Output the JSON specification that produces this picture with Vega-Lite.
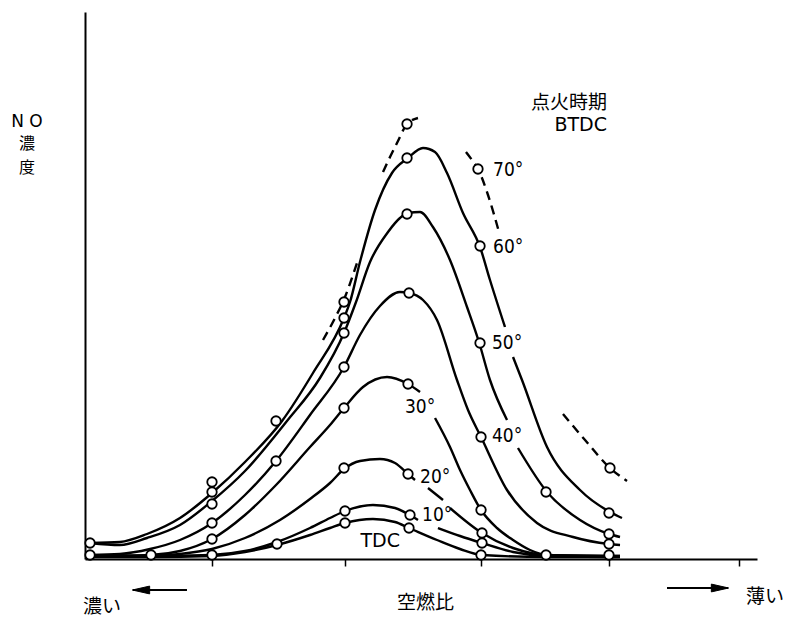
{
  "$schema": "https://vega.github.io/schema/vega-lite/v6.json",
  "width": 672,
  "height": 547,
  "autosize": {"type": "none"},
  "padding": {"left": 85, "top": 12, "right": 30, "bottom": 58},
  "background": "white",
  "config": {
    "view": {"stroke": null},
    "axis": {"domainColor": "black", "domainWidth": 2, "tickColor": "black", "tickWidth": 1.5, "tickSize": 7, "grid": false, "labels": false, "titleColor": "black", "titleFontWeight": "normal"}
  },
  "datasets": {
    "curves": [
      {"series":"60°","seg":"60a","afr":10.152,"no":80},{"series":"60°","seg":"60a","afr":10.606,"no":85},{"series":"60°","seg":"60a","afr":11.015,"no":125},{"series":"60°","seg":"60a","afr":11.515,"no":205},{"series":"60°","seg":"60a","afr":12.0,"no":330},{"series":"60°","seg":"60a","afr":12.5,"no":485},{"series":"60°","seg":"60a","afr":13.061,"no":690},{"series":"60°","seg":"60a","afr":13.53,"no":930},{"series":"60°","seg":"60a","afr":14.0,"no":1205},{"series":"60°","seg":"60a","afr":14.091,"no":1285},{"series":"60°","seg":"60a","afr":14.242,"no":1485},{"series":"60°","seg":"60a","afr":14.47,"no":1745},{"series":"60°","seg":"60a","afr":14.727,"no":1930},{"series":"60°","seg":"60a","afr":14.97,"no":2005},{"series":"60°","seg":"60a","afr":15.197,"no":2055},{"series":"60°","seg":"60a","afr":15.379,"no":2035},{"series":"60°","seg":"60a","afr":15.561,"no":1930},{"series":"60°","seg":"60a","afr":15.803,"no":1730},{"series":"60°","seg":"60a","afr":16.061,"no":1560},{"series":"60°","seg":"60a","afr":16.212,"no":1395},{"series":"60°","seg":"60a","afr":16.439,"no":1160},
      {"series":"60°","seg":"60b","afr":16.561,"no":1010},{"series":"60°","seg":"60b","afr":16.697,"no":895},{"series":"60°","seg":"60b","afr":17.076,"no":560},{"series":"60°","seg":"60b","afr":17.576,"no":345},{"series":"60°","seg":"60b","afr":18.03,"no":235},{"series":"60°","seg":"60b","afr":18.212,"no":205},
      {"series":"50°","seg":"50a","afr":10.152,"no":80},{"series":"50°","seg":"50a","afr":10.606,"no":70},{"series":"50°","seg":"50a","afr":11.015,"no":105},{"series":"50°","seg":"50a","afr":11.515,"no":170},{"series":"50°","seg":"50a","afr":12.0,"no":290},{"series":"50°","seg":"50a","afr":12.5,"no":440},{"series":"50°","seg":"50a","afr":13.136,"no":690},{"series":"50°","seg":"50a","afr":13.636,"no":905},{"series":"50°","seg":"50a","afr":14.0,"no":1130},{"series":"50°","seg":"50a","afr":14.182,"no":1285},{"series":"50°","seg":"50a","afr":14.394,"no":1485},{"series":"50°","seg":"50a","afr":14.667,"no":1635},{"series":"50°","seg":"50a","afr":14.848,"no":1705},{"series":"50°","seg":"50a","afr":14.97,"no":1730},{"series":"50°","seg":"50a","afr":15.152,"no":1735},{"series":"50°","seg":"50a","afr":15.348,"no":1660},{"series":"50°","seg":"50a","afr":15.606,"no":1495},{"series":"50°","seg":"50a","afr":15.864,"no":1260},{"series":"50°","seg":"50a","afr":16.045,"no":1085},{"series":"50°","seg":"50a","afr":16.212,"no":895},{"series":"50°","seg":"50a","afr":16.47,"no":695},
      {"series":"50°","seg":"50b","afr":16.636,"no":555},{"series":"50°","seg":"50b","afr":17.076,"no":335},{"series":"50°","seg":"50b","afr":17.576,"no":195},{"series":"50°","seg":"50b","afr":18.015,"no":125},{"series":"50°","seg":"50b","afr":18.182,"no":110},
      {"series":"40°","seg":"40a","afr":10.152,"no":20},{"series":"40°","seg":"40a","afr":10.606,"no":25},{"series":"40°","seg":"40a","afr":11.061,"no":50},{"series":"40°","seg":"40a","afr":11.515,"no":95},{"series":"40°","seg":"40a","afr":12.0,"no":180},{"series":"40°","seg":"40a","afr":12.5,"no":320},{"series":"40°","seg":"40a","afr":12.97,"no":490},{"series":"40°","seg":"40a","afr":13.485,"no":720},{"series":"40°","seg":"40a","afr":14.0,"no":960},{"series":"40°","seg":"40a","afr":14.242,"no":1120},{"series":"40°","seg":"40a","afr":14.545,"no":1265},{"series":"40°","seg":"40a","afr":14.848,"no":1335},{"series":"40°","seg":"40a","afr":14.985,"no":1330},{"series":"40°","seg":"40a","afr":15.197,"no":1295},{"series":"40°","seg":"40a","afr":15.409,"no":1195},{"series":"40°","seg":"40a","afr":15.712,"no":895},{"series":"40°","seg":"40a","afr":15.879,"no":745},{"series":"40°","seg":"40a","afr":16.076,"no":610},{"series":"40°","seg":"40a","afr":16.47,"no":345},{"series":"40°","seg":"40a","afr":16.924,"no":180},{"series":"40°","seg":"40a","afr":17.47,"no":110},{"series":"40°","seg":"40a","afr":18.015,"no":75},{"series":"40°","seg":"40a","afr":18.182,"no":70},
      {"series":"30°","seg":"30a","afr":10.152,"no":15},{"series":"30°","seg":"30a","afr":11.076,"no":20},{"series":"30°","seg":"30a","afr":11.515,"no":40},{"series":"30°","seg":"30a","afr":12.0,"no":100},{"series":"30°","seg":"30a","afr":12.5,"no":220},{"series":"30°","seg":"30a","afr":12.97,"no":370},{"series":"30°","seg":"30a","afr":13.485,"no":560},{"series":"30°","seg":"30a","afr":13.788,"no":670},{"series":"30°","seg":"30a","afr":14.0,"no":755},{"series":"30°","seg":"30a","afr":14.288,"no":860},{"series":"30°","seg":"30a","afr":14.652,"no":910},{"series":"30°","seg":"30a","afr":14.97,"no":875},{"series":"30°","seg":"30a","afr":15.152,"no":835},
      {"series":"30°","seg":"30b","afr":15.379,"no":705},{"series":"30°","seg":"30b","afr":15.606,"no":560},{"series":"30°","seg":"30b","afr":15.758,"no":445},{"series":"30°","seg":"30b","afr":15.909,"no":345},{"series":"30°","seg":"30b","afr":16.076,"no":245},{"series":"30°","seg":"30b","afr":16.318,"no":155},{"series":"30°","seg":"30b","afr":16.561,"no":95},{"series":"30°","seg":"30b","afr":16.818,"no":45},{"series":"30°","seg":"30b","afr":17.076,"no":20},{"series":"30°","seg":"30b","afr":18.182,"no":15},
      {"series":"20°","seg":"20a","afr":10.152,"no":15},{"series":"20°","seg":"20a","afr":11.061,"no":15},{"series":"20°","seg":"20a","afr":11.515,"no":25},{"series":"20°","seg":"20a","afr":12.0,"no":50},{"series":"20°","seg":"20a","afr":12.5,"no":105},{"series":"20°","seg":"20a","afr":13.03,"no":195},{"series":"20°","seg":"20a","afr":13.485,"no":300},{"series":"20°","seg":"20a","afr":13.788,"no":380},{"series":"20°","seg":"20a","afr":14.0,"no":450},{"series":"20°","seg":"20a","afr":14.242,"no":490},{"series":"20°","seg":"20a","afr":14.545,"no":500},{"series":"20°","seg":"20a","afr":14.773,"no":480},{"series":"20°","seg":"20a","afr":14.97,"no":425},{"series":"20°","seg":"20a","afr":15.076,"no":395},
      {"series":"20°","seg":"20b","afr":15.273,"no":355},{"series":"20°","seg":"20b","afr":15.5,"no":295},
      {"series":"20°","seg":"20c","afr":15.606,"no":255},{"series":"20°","seg":"20c","afr":16.091,"no":130},{"series":"20°","seg":"20c","afr":16.561,"no":55},{"series":"20°","seg":"20c","afr":17.076,"no":20},{"series":"20°","seg":"20c","afr":18.182,"no":15},
      {"series":"10°","seg":"10a","afr":10.152,"no":15},{"series":"10°","seg":"10a","afr":11.061,"no":15},{"series":"10°","seg":"10a","afr":12.0,"no":20},{"series":"10°","seg":"10a","afr":12.5,"no":40},{"series":"10°","seg":"10a","afr":12.985,"no":85},{"series":"10°","seg":"10a","afr":13.485,"no":155},{"series":"10°","seg":"10a","afr":13.788,"no":205},{"series":"10°","seg":"10a","afr":14.015,"no":240},{"series":"10°","seg":"10a","afr":14.439,"no":270},{"series":"10°","seg":"10a","afr":14.773,"no":255},{"series":"10°","seg":"10a","afr":15.0,"no":220},{"series":"10°","seg":"10a","afr":15.121,"no":195},
      {"series":"10°","seg":"10b","afr":15.424,"no":155},{"series":"10°","seg":"10b","afr":15.758,"no":115},{"series":"10°","seg":"10b","afr":16.091,"no":80},{"series":"10°","seg":"10b","afr":16.561,"no":35},{"series":"10°","seg":"10b","afr":17.076,"no":15},{"series":"10°","seg":"10b","afr":18.182,"no":10},
      {"series":"TDC","seg":"TDCa","afr":10.152,"no":10},{"series":"TDC","seg":"TDCa","afr":11.061,"no":10},{"series":"TDC","seg":"TDCa","afr":12.0,"no":15},{"series":"TDC","seg":"TDCa","afr":12.5,"no":35},{"series":"TDC","seg":"TDCa","afr":12.985,"no":70},{"series":"TDC","seg":"TDCa","afr":13.485,"no":120},{"series":"TDC","seg":"TDCa","afr":13.788,"no":155},{"series":"TDC","seg":"TDCa","afr":14.015,"no":180},{"series":"TDC","seg":"TDCa","afr":14.439,"no":200},{"series":"TDC","seg":"TDCa","afr":14.773,"no":185},{"series":"TDC","seg":"TDCa","afr":14.985,"no":155},{"series":"TDC","seg":"TDCa","afr":15.409,"no":95},{"series":"TDC","seg":"TDCa","afr":15.758,"no":50},{"series":"TDC","seg":"TDCa","afr":16.091,"no":20},{"series":"TDC","seg":"TDCa","afr":17.076,"no":10},{"series":"TDC","seg":"TDCa","afr":18.182,"no":10},
      {"series":"70°","seg":"70a","afr":13.682,"no":1095},{"series":"70°","seg":"70a","afr":13.864,"no":1205},{"series":"70°","seg":"70a","afr":14.015,"no":1310},{"series":"70°","seg":"70a","afr":14.136,"no":1420},{"series":"70°","seg":"70a","afr":14.212,"no":1495},
      {"series":"70°","seg":"70b","afr":14.591,"no":1935},{"series":"70°","seg":"70b","afr":14.697,"no":2010},{"series":"70°","seg":"70b","afr":14.803,"no":2080},{"series":"70°","seg":"70b","afr":14.955,"no":2175},{"series":"70°","seg":"70b","afr":15.121,"no":2205},
      {"series":"70°","seg":"70c","afr":15.848,"no":2035},{"series":"70°","seg":"70c","afr":15.939,"no":1995},{"series":"70°","seg":"70c","afr":16.03,"no":1950},{"series":"70°","seg":"70c","afr":16.182,"no":1820},{"series":"70°","seg":"70c","afr":16.348,"no":1635},
      {"series":"70°","seg":"70d","afr":17.318,"no":725},{"series":"70°","seg":"70d","afr":17.652,"no":595},{"series":"70°","seg":"70d","afr":18.03,"no":455},{"series":"70°","seg":"70d","afr":18.288,"no":390}
    ],
    "circles": [
      {"afr":10.152,"no":80},{"afr":10.152,"no":20},{"afr":11.076,"no":20},
      {"afr":12.0,"no":385},{"afr":12.0,"no":335},{"afr":12.0,"no":275},{"afr":12.0,"no":180},{"afr":12.0,"no":100},{"afr":12.0,"no":20},
      {"afr":12.97,"no":690},{"afr":12.97,"no":490},{"afr":12.985,"no":75},
      {"afr":14.0,"no":1285},{"afr":14.0,"no":1205},{"afr":14.0,"no":1130},{"afr":14.0,"no":960},{"afr":14.0,"no":755},{"afr":14.0,"no":455},{"afr":14.015,"no":240},{"afr":14.015,"no":180},
      {"afr":14.955,"no":2175},{"afr":14.955,"no":2005},{"afr":14.955,"no":1725},{"afr":14.985,"no":1330},{"afr":14.97,"no":875},{"afr":14.97,"no":425},{"afr":15.0,"no":220},{"afr":14.985,"no":155},
      {"afr":16.03,"no":1950},{"afr":16.061,"no":1565},{"afr":16.061,"no":1080},{"afr":16.076,"no":610},{"afr":16.076,"no":245},{"afr":16.091,"no":130},{"afr":16.091,"no":80},{"afr":16.076,"no":20},
      {"afr":17.061,"no":335},{"afr":17.061,"no":20},
      {"afr":18.03,"no":455},{"afr":18.015,"no":230},{"afr":18.015,"no":125},{"afr":18.015,"no":75},{"afr":18.015,"no":20}
    ],
    "deg": [
      {"label":"70°","afr":16.258,"no":1945},{"label":"60°","afr":16.258,"no":1560},{"label":"50°","afr":16.242,"no":1080},{"label":"40°","afr":16.242,"no":615},{"label":"30°","afr":14.924,"no":760},{"label":"20°","afr":15.152,"no":410},{"label":"10°","afr":15.182,"no":220}
    ],
    "hdr": [
      {"label":"点火時期","afr":17.985,"no":2280},{"label":"BTDC","afr":17.985,"no":2170},{"label":"TDC","afr":14.848,"no":90}
    ],
    "ytitle_latin": [
      {"label":"N O","afr":9.197,"no":2185}
    ],
    "ytitle_kanji": [
      {"label":"濃","afr":9.197,"no":2075},{"label":"度","afr":9.197,"no":1955}
    ],
    "ends": [
      {"label":"濃い","afr":10.333,"no":-240},{"label":"薄い","afr":20.379,"no":-190}
    ],
    "arrows": [
      {"afr":10.803,"afr2":11.621,"no":-155},{"afr":18.894,"afr2":19.818,"no":-145}
    ],
    "heads": [
      {"dir":"left","afr":10.924,"no":-155},{"dir":"right","afr":19.697,"no":-145}
    ]
  },
  "encoding": {
    "x": {"field": "afr", "type": "quantitative",
      "scale": {"domain": [10.0758, 20.2576], "nice": false, "zero": false},
      "axis": {"values": [12, 14.015, 16.076, 18.015, 19.985], "title": "空燃比", "titleFont": "Noto Sans CJK JP", "titleFontSize": 19, "titleX": 340, "titleY": 43, "titleAlign": "center", "titleBaseline": "middle"}},
    "y": {"field": "no", "type": "quantitative",
      "scale": {"domain": [0, 2735], "nice": false, "zero": false},
      "axis": {"ticks": false, "title": null}}
  },
  "layer": [
    {"data": {"name": "curves"}, "transform": [{"filter": "datum.series !== '70°'"}],
     "mark": {"type": "line", "interpolate": "monotone", "color": "black", "strokeWidth": 2.4},
     "encoding": {"detail": {"field": "seg"}}},
    {"data": {"name": "curves"}, "transform": [{"filter": "datum.series === '70°'"}],
     "mark": {"type": "line", "interpolate": "monotone", "color": "black", "strokeWidth": 2.4, "strokeDash": [9, 6]},
     "encoding": {"detail": {"field": "seg"}}},
    {"data": {"name": "circles"},
     "mark": {"type": "point", "shape": "circle", "fill": "white", "stroke": "black", "strokeWidth": 1.8, "size": 90, "opacity": 1, "fillOpacity": 1}},
    {"data": {"name": "deg"},
     "mark": {"type": "text", "align": "left", "baseline": "middle", "font": "Liberation Sans Narrow, DejaVu Sans Condensed, sans-serif", "fontSize": 19, "color": "black"},
     "encoding": {"text": {"field": "label"}}},
    {"data": {"name": "hdr"},
     "mark": {"type": "text", "align": "right", "baseline": "middle", "font": "DejaVu Sans, Noto Sans CJK JP, sans-serif", "fontSize": 19, "color": "black"},
     "encoding": {"text": {"field": "label"}}},
    {"data": {"name": "ytitle_latin"},
     "mark": {"type": "text", "align": "center", "baseline": "middle", "font": "DejaVu Sans", "fontSize": 17, "color": "black"},
     "encoding": {"text": {"field": "label"}}},
    {"data": {"name": "ytitle_kanji"},
     "mark": {"type": "text", "align": "center", "baseline": "middle", "font": "Noto Sans CJK JP", "fontSize": 16, "color": "black"},
     "encoding": {"text": {"field": "label"}}},
    {"data": {"name": "ends"},
     "mark": {"type": "text", "align": "center", "baseline": "middle", "font": "Noto Sans CJK JP", "fontSize": 19, "color": "black"},
     "encoding": {"text": {"field": "label"}}},
    {"data": {"name": "arrows"},
     "mark": {"type": "rule", "color": "black", "strokeWidth": 2},
     "encoding": {"x2": {"field": "afr2"}}},
    {"data": {"name": "heads"},
     "mark": {"type": "point", "filled": true, "color": "black", "stroke": "black", "strokeWidth": 1, "size": 300, "opacity": 1},
     "encoding": {"shape": {"field": "dir", "type": "nominal", "legend": null,
       "scale": {"domain": ["left", "right"], "range": ["M -1 0 L 1 -0.45 L 1 0.45 Z", "M 1 0 L -1 -0.45 L -1 0.45 Z"]}}}}
  ]
}
